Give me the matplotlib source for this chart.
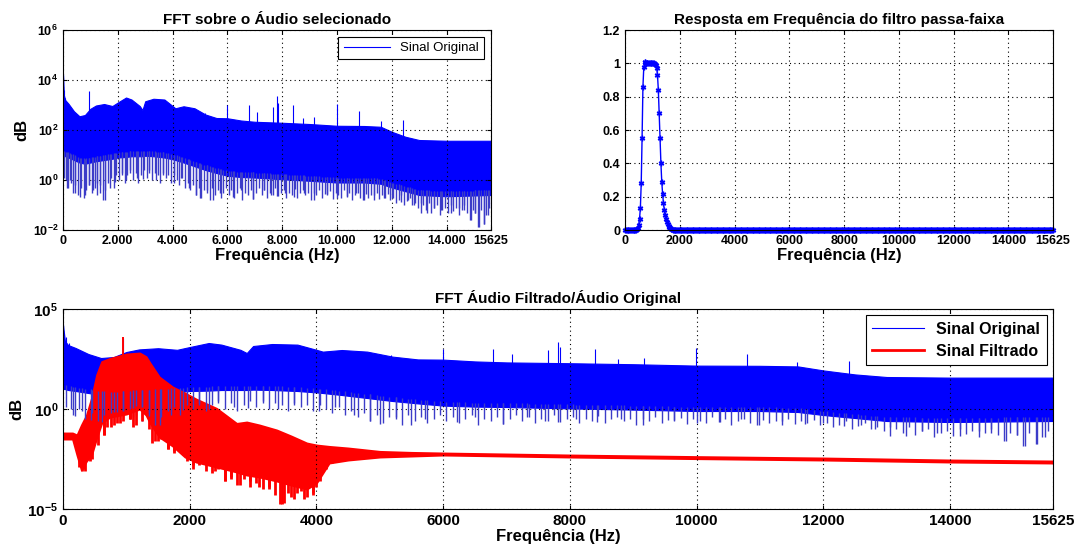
import numpy as np
import matplotlib
matplotlib.use('Agg')
import matplotlib.pyplot as plt
from matplotlib.ticker import FixedLocator, FixedFormatter, NullLocator, LogFormatterMathtext

plt.rcParams['font.family'] = ['Liberation Sans', 'DejaVu Sans']
plt.rcParams['font.weight'] = 'bold'
plt.rcParams['mathtext.fontset'] = 'custom'
plt.rcParams['mathtext.rm'] = 'Liberation Sans:bold'
plt.rcParams['mathtext.it'] = 'Liberation Sans:bold'
plt.rcParams['mathtext.bf'] = 'Liberation Sans:bold'

# ---- original signal spectrum (log10 of magnitude) ----
orig_f = [0, 30, 80, 200, 400, 600, 800, 1000, 1200, 1500, 1800, 2000, 2300, 2500,
          2800, 2900, 3000, 3300, 3700, 4000, 4100, 4400, 4800, 5200, 5600, 6000,
          6500, 7000, 8000, 9000, 10000, 11000, 11600, 12000, 12500, 13000, 14000, 15625]
orig_hi = [4.2, 3.4, 3.2, 3.05, 2.75, 2.55, 2.6, 2.85, 2.98, 3.04, 2.96, 3.1, 3.3, 3.22,
           2.96, 2.8, 3.15, 3.25, 3.22, 2.96, 2.87, 2.95, 2.87, 2.62, 2.48, 2.47,
           2.38, 2.33, 2.29, 2.24, 2.17, 2.16, 2.13, 1.93, 1.73, 1.6, 1.57, 1.57]
orig_lo = [1.0, 1.0, 0.95, 0.9, 0.8, 0.7, 0.65, 0.7, 0.75, 0.8, 0.85, 0.9, 0.92, 0.95,
           0.95, 0.95, 0.97, 0.95, 0.9, 0.83, 0.8, 0.7, 0.55, 0.4, 0.28, 0.17,
           0.12, 0.1, 0.03, -0.03, -0.1, -0.1, -0.15, -0.3, -0.45, -0.6, -0.65, -0.6]

# peaks sticking out above the band
orig_peak_f = [0, 40, 90, 950, 5170, 5990, 6780, 7090, 7660, 7810, 7850, 8390, 8760,
               9170, 9990, 10800, 11590, 12400]
orig_peak_v = [4.24, 3.6, 3.3, 3.57, 2.7, 3.0, 3.0, 2.73, 2.93, 3.37, 3.1, 3.0, 2.5,
               2.53, 3.03, 2.77, 2.36, 2.4]

# dips going below the band: one reading every 100 Hz (50, 150, ..., 15550)
orig_dip_step_f = list(range(50, 15625, 100))
orig_dip_step_v = [
    0.1, -0.3, 0.0, -0.5, -0.2, -0.6, -0.3, -0.7, -0.4, -0.2,
    -0.5, -0.3, -0.6, -0.2, -0.8, -0.4, -0.1, 0.1, -0.3, 0.2,
    0.0, 0.3, -0.1, 0.2, 0.4, 0.0, 0.3, -0.1, 0.2, 0.4,
    0.1, 0.4, 0.0, 0.3, 0.2, -0.1, 0.3, 0.1, 0.2, -0.1,
    0.2, 0.0, -0.2, 0.1, -0.3, -0.1, -0.4, -0.2, -0.6, -0.3,
    -0.7, -0.4, -0.5, -0.8, -0.3, -0.6, -0.4, -0.7, -0.5, -0.3,
    -0.6, -0.4, -0.7, -0.5, -0.3, -0.8, -0.5, -0.6, -0.4, -0.75,
    -0.5, -0.3, -0.6, -0.4, -0.7, -0.5, -0.6, -0.3, -0.65, -0.5,
    -0.4, -0.7, -0.5, -0.6, -0.35, -0.7, -0.5, -0.4, -0.6, -0.5,
    -0.8, -0.5, -0.6, -0.4, -0.7, -0.55, -0.6, -0.45, -0.75, -0.5,
    -0.6, -0.7, -0.4, -0.65, -0.5, -0.8, -0.6, -0.5, -0.7, -0.8,
    -0.55, -0.7, -0.6, -0.8, -0.5, -0.75, -0.6, -0.7, -0.55, -0.8,
    -0.7, -0.9, -0.8, -0.6, -1.0, -0.85, -0.7, -1.0, -0.9, -1.1,
    -1.33, -1.0, -1.2, -0.9, -1.3, -1.1, -1.0, -1.4, -1.2, -1.1,
    -1.33, -1.0, -1.25, -1.1, -1.4, -1.2, -1.0, -1.3, -1.6, -1.2,
    -1.3, -1.87, -1.2, -1.75, -1.4, -1.1]
# the deeper single dips
orig_dip_f = [120, 195, 300, 438, 620, 800, 950, 1107, 1250, 1350, 1533, 1700, 1900,
              2140, 2300, 2450, 2700, 2920, 3150, 3400, 3650, 4040, 4300, 4600, 4850,
              5000, 5250, 5490, 5720, 6220, 6500, 6950, 7320, 7600, 7810, 8100, 8420,
              8800, 9150, 9640, 10000, 10370, 10700, 10980, 11350, 11710, 12000, 12320,
              12600, 12810, 13050, 13300, 13550, 13800, 14150, 14450, 14650, 14880,
              15050, 15190, 15370, 15500]
orig_dip_v = [0.0, -0.33, -0.1, -0.53, -0.67, -0.6, -0.2, -0.4, -0.1, -0.5, -0.8, -0.3,
              -0.07, 0.2, 0.0, 0.3, 0.1, 0.05, 0.3, 0.0, 0.2, -0.1, 0.1, -0.3, -0.6,
              -0.73, -0.4, -0.8, -0.5, -0.67, -0.4, -0.75, -0.4, -0.6, -0.65, -0.5,
              -0.67, -0.5, -0.8, -0.55, -0.7, -0.67, -0.5, -0.8, -0.6, -0.73, -0.7,
              -0.87, -0.8, -1.0, -0.9, -1.33, -1.1, -1.2, -1.33, -1.1, -1.2, -1.6,
              -1.3, -1.87, -1.75, -1.4]

# ---- filtered signal spectrum ----
filt_f = [0, 150, 220, 290, 370, 450, 530, 610, 740, 1000, 1210, 1310, 1373, 1520,
          1730, 1925, 2100, 2425, 2741, 2899, 3100, 3373, 3600, 3847, 4000, 4200,
          4500, 5000, 5500, 6000, 8000, 10000, 12000, 14000, 15625]
filt_hi = [-1.2, -1.2, -1.3, -0.8, -0.3, 0.55, 1.7, 2.37, 2.53, 2.75, 2.8, 2.62, 2.3,
           1.6, 1.1, 0.8, 0.5, 0.03, -0.72, -0.65, -0.8, -1.05, -1.35, -1.7, -1.8,
           -1.87, -1.95, -2.12, -2.17, -2.2, -2.3, -2.38, -2.45, -2.55, -2.6]
filt_lo = [-1.5, -1.5, -2.3, -3.05, -2.6, -2.3, -1.45, -0.7, -0.4, -0.25, 0.0, -0.3,
           -0.7, -1.4, -1.85, -2.4, -2.65, -2.9, -3.15, -3.3, -3.4, -3.6, -3.8, -4.0,
           -3.7, -2.7, -2.55, -2.4, -2.35, -2.3, -2.4, -2.48, -2.55, -2.65, -2.7]
filt_peak_f = [950]
filt_peak_v = [3.62]
# red dips: one reading every 100 Hz (250 ... 4250)
filt_dip_step_f = list(range(250, 4300, 100))
filt_dip_step_v = [-2.9, -3.1, -2.5, -1.8, -1.3, -0.9, -0.7, -0.6, -0.5, -0.8,
                   -0.6, -1.0, -1.6, -1.5, -2.0, -2.2, -2.1, -2.6, -3.0, -2.8,
                   -3.1, -3.2, -3.0, -3.6, -3.4, -3.8, -3.5, -3.9, -3.7, -4.0,
                   -3.9, -4.3, -4.75, -4.2, -4.5, -4.1, -4.4, -4.3, -3.6, -3.0, -2.7]
filt_dip_f = [300, 330, 420, 650, 700, 800, 900, 1050, 1100, 1400, 1500, 1650, 1750,
              1900, 2050, 2250, 2400, 2550, 2650, 2800, 2950, 3100, 3250, 3420, 3480,
              3600, 3700, 3800, 3950, 4000]
filt_dip_v = [-3.1, -3.0, -2.6, -1.3, -0.9, -0.8, -0.7, -0.5, -0.9, -1.7, -1.6, -2.0,
              -2.1, -2.3, -2.8, -2.8, -3.1, -3.6, -3.5, -3.8, -3.6, -3.9, -4.0, -4.75,
              -4.7, -4.4, -4.2, -4.5, -4.2, -3.9]

# ---- band-pass filter response (freqz grid, 31.25 Hz step) ----
resp_step = 31.25
resp_start_bin = 14
resp_band = [0.005, 0.015, 0.03, 0.065, 0.13, 0.28, 0.55, 0.86, 0.976, 1.01, 1.01,
             1.005, 1.0, 1.0, 1.0, 1.0, 1.0, 1.0, 1.0, 1.0, 1.0, 0.995, 0.99, 0.975,
             0.93, 0.84, 0.70, 0.55, 0.40, 0.29, 0.215, 0.16, 0.12, 0.09, 0.068, 0.05,
             0.036, 0.026, 0.018, 0.012, 0.008, 0.005, 0.003, 0.002, 0.001]

fmax = 15625
x_ticks = [0, 2000, 4000, 6000, 8000, 10000, 12000, 14000, 15625]


def draw_spectrum(ax, f, lo, hi, peaks, dips, color, dip_color, lw, dip_lw):
    f = np.array(f, dtype=float)
    lo = np.array(lo)
    hi = np.array(hi)
    ax.fill_between(f, 10.0 ** lo, 10.0 ** hi, color=color, lw=lw, edgecolor=color)
    for pf, pv in peaks:
        base = np.interp(pf, f, hi)
        ax.vlines(pf, 10.0 ** (base - 0.2), 10.0 ** np.array(pv), color=color, lw=lw)
    for df, dv in dips:
        base = np.interp(df, f, lo)
        ax.vlines(df, 10.0 ** np.array(dv), 10.0 ** (base + 0.2), color=dip_color, lw=dip_lw)


def style_axis(ax, tick_size):
    ax.grid(True, linestyle=(0, (1, 3)), color='black', linewidth=0.8)
    ax.tick_params(direction='in', labelsize=tick_size, length=3, top=True, right=True)
    for s in ax.spines.values():
        s.set_linewidth(0.8)


orig_peaks = [(orig_peak_f, orig_peak_v)]
orig_dips = [(orig_dip_step_f, orig_dip_step_v), (orig_dip_f, orig_dip_v)]
filt_peaks = [(filt_peak_f, filt_peak_v)]
filt_dips = [(filt_dip_step_f, filt_dip_step_v), (filt_dip_f, filt_dip_v)]

fig = plt.figure(figsize=(10.92, 5.58), dpi=100)

# --- top left: FFT of the original audio ---
ax1 = fig.add_axes([0.0577, 0.5878, 0.392, 0.3584])
draw_spectrum(ax1, orig_f, orig_lo, orig_hi, orig_peaks, orig_dips, 'blue', '#3c3cc8', 0.8, 1.0)
ax1.set_yscale('log')
ax1.set_xlim(0, fmax)
ax1.set_ylim(1e-2, 1e6)
ax1.yaxis.set_major_locator(FixedLocator([1e-2, 1e0, 1e2, 1e4, 1e6]))
ax1.yaxis.set_major_formatter(LogFormatterMathtext())
ax1.yaxis.set_minor_locator(NullLocator())
ax1.xaxis.set_major_locator(FixedLocator(x_ticks))
ax1.xaxis.set_major_formatter(FixedFormatter(
    ['0', '2.000', '4.000', '6.000', '8.000', '10.000', '12.000', '14.000', '15625']))
style_axis(ax1, 9)
ax1.set_title('FFT sobre o Áudio selecionado', fontsize=11, fontweight='bold', pad=4)
ax1.set_xlabel('Frequência (Hz)', fontsize=12, fontweight='bold', labelpad=1)
ax1.set_ylabel('dB', fontsize=12, fontweight='bold', labelpad=2)
h, = ax1.plot([], [], color='blue', lw=0.8, label='Sinal Original')
leg = ax1.legend(handles=[h], loc='upper right', fancybox=False, framealpha=1,
                 edgecolor='black', prop={'size': 9.5, 'weight': 'normal'},
                 borderaxespad=0.5, handlelength=3.5)
leg.get_frame().set_linewidth(0.8)

# --- top right: filter response ---
ax2 = fig.add_axes([0.5723, 0.5878, 0.392, 0.3584])
n_bins = int(fmax / resp_step) + 1
resp_f = np.arange(n_bins) * resp_step
resp_gain = np.zeros(n_bins)
resp_gain[resp_start_bin:resp_start_bin + len(resp_band)] = resp_band
ax2.plot(resp_f, resp_gain, color='blue', lw=1, marker=(6, 2, 0), markersize=4,
         markeredgewidth=1.0, clip_on=False)
ax2.set_xlim(0, fmax)
ax2.set_ylim(0, 1.2)
ax2.xaxis.set_major_locator(FixedLocator(x_ticks))
ax2.xaxis.set_major_formatter(FixedFormatter([str(t) for t in x_ticks]))
ax2.yaxis.set_major_locator(FixedLocator([0, 0.2, 0.4, 0.6, 0.8, 1.0, 1.2]))
ax2.yaxis.set_major_formatter(FixedFormatter(['0', '0.2', '0.4', '0.6', '0.8', '1', '1.2']))
style_axis(ax2, 9)
ax2.set_title('Resposta em Frequência do filtro passa-faixa', fontsize=11,
              fontweight='bold', pad=4)
ax2.set_xlabel('Frequência (Hz)', fontsize=12, fontweight='bold', labelpad=1)

# --- bottom: filtered vs original ---
ax3 = fig.add_axes([0.0577, 0.0878, 0.9066, 0.3584])
draw_spectrum(ax3, orig_f, orig_lo, orig_hi, orig_peaks, orig_dips, 'blue', '#3c3cc8', 0.8, 1.0)
draw_spectrum(ax3, filt_f, filt_lo, filt_hi, filt_peaks, filt_dips, 'red', 'red', 1.4, 2.0)
ax3.set_yscale('log')
ax3.set_xlim(0, fmax)
ax3.set_ylim(1e-5, 1e5)
ax3.yaxis.set_major_locator(FixedLocator([1e-5, 1e0, 1e5]))
ax3.yaxis.set_major_formatter(LogFormatterMathtext())
ax3.yaxis.set_minor_locator(NullLocator())
ax3.xaxis.set_major_locator(FixedLocator(x_ticks))
ax3.xaxis.set_major_formatter(FixedFormatter([str(t) for t in x_ticks]))
style_axis(ax3, 11)
ax3.set_title('FFT Áudio Filtrado/Áudio Original', fontsize=11, fontweight='bold', pad=4)
ax3.set_xlabel('Frequência (Hz)', fontsize=12, fontweight='bold', labelpad=1)
ax3.set_ylabel('dB', fontsize=12, fontweight='bold', labelpad=2)
h1, = ax3.plot([], [], color='blue', lw=0.8, label='Sinal Original')
h2, = ax3.plot([], [], color='red', lw=2, label='Sinal Filtrado')
leg = ax3.legend(handles=[h1, h2], loc='upper right', fancybox=False, framealpha=1,
                 edgecolor='black', prop={'size': 11.5, 'weight': 'bold'},
                 borderaxespad=0.4, handlelength=3.2, labelspacing=0.45)
leg.get_frame().set_linewidth(0.8)

fig.savefig('out.png', dpi=100)
